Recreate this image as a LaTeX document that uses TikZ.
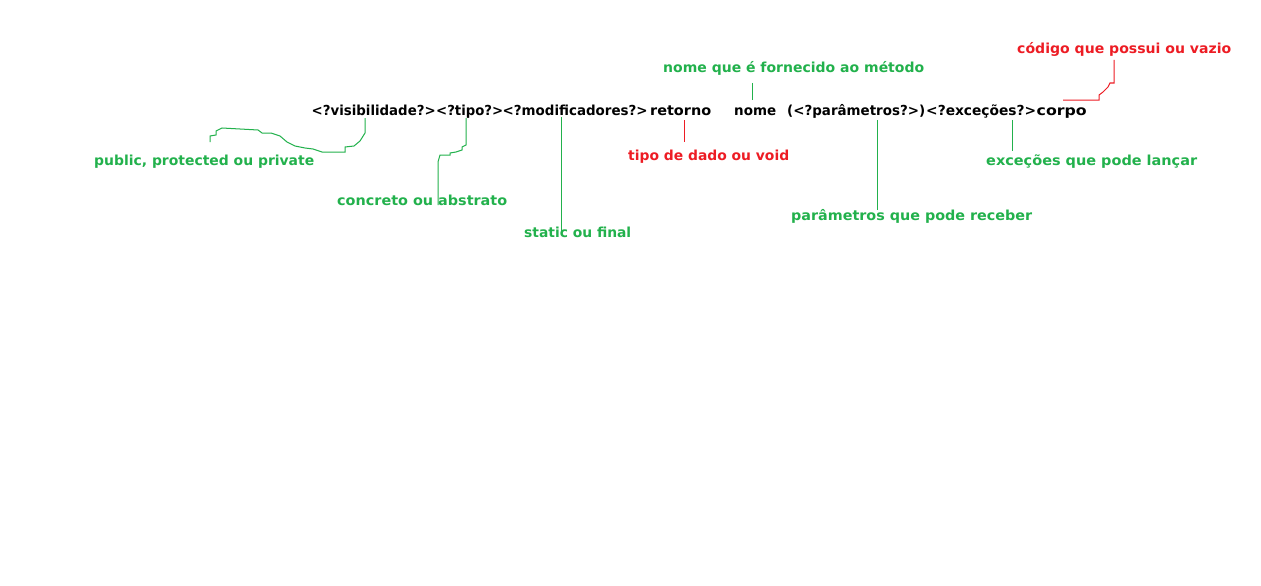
\documentclass[tikz,border=0pt]{standalone}
\usepackage{fontspec}
\usepackage{graphicx}
\setmainfont{DejaVu Sans}
\definecolor{lblgreen}{HTML}{22B14C}
\definecolor{lblred}{HTML}{ED1C24}
% set a text to a given width, keeping its height
\newcommand\fitw[2]{\resizebox{#1pt}{\height}{#2}}
\begin{document}
\begin{tikzpicture}[x=1pt,y=-1pt,
  txt/.style={anchor=base west,inner sep=0pt,font=\fontsize{13.8}{16}\selectfont\bfseries},
  sig/.style={txt,text=black},
  gl/.style={txt,text=lblgreen},
  rl/.style={txt,text=lblred},
  gline/.style={draw=lblgreen,line width=1pt},
  rline/.style={draw=lblred,line width=1pt}]
\fill[white] (0,0) rectangle (1261,586);
\useasboundingbox (0,0) rectangle (1261,586);

% method signature, one node per part
\node[sig] (sVis) at (311.5,115) {\fitw{124}{<?visibilidade?>}};
\node[sig] (sTipo) at (436,115) {\fitw{67}{<?tipo?>}};
\node[sig] (sMod) at (502.5,115) {\fitw{145}{<?modificadores?>}};
\node[sig] (sRet) at (650,115) {\fitw{61}{retorno}};
\node[sig] (sNome) at (734,115) {\fitw{42}{nome}};
\node[sig] (sPar) at (787,115) {\fitw{138}{(<?parâmetros?>)}};
\node[sig] (sExc) at (926,115) {\fitw{110}{<?exceções?>}};
\node[sig] (sCorpo) at (1036.5,115) {\fitw{50}{corpo}};

% explanations
\node[gl] (vis) at (94,165.5) {\fitw{220}{public, protected ou private}};
\node[gl] (tipo) at (337,205) {\fitw{170}{concreto ou abstrato}};
\node[gl] (mod) at (524,237.5) {\fitw{107}{static ou final}};
\node[rl] (ret) at (628,160) {\fitw{161}{tipo de dado ou void}};
\node[gl] (nomelbl) at (663,73) {\fitw{261}{nome que é fornecido ao método}};
\node[gl] (par) at (791,220) {\fitw{241}{parâmetros que pode receber}};
\node[gl] (exc) at (986,165) {\fitw{211}{exceções que pode lançar}};
\node[rl] (corpo) at (1017,54) {\fitw{214}{código que possui ou vazio}};

% connector ends
\coordinate (visTop) at (365,118);
\coordinate (visEnd) at (210,142);
\coordinate (tipoTop) at (466,118);
\coordinate (tipoEnd) at (438,205);
\coordinate (modTop) at (561,117);
\coordinate (modEnd) at (561,232);
\coordinate (retTop) at (684,120);
\coordinate (retEnd) at (684,142);
\coordinate (nomeTop) at (752,83);
\coordinate (nomeEnd) at (752,100);
\coordinate (parTop) at (877,120);
\coordinate (parEnd) at (877,210);
\coordinate (excTop) at (1012,120);
\coordinate (excEnd) at (1012,151);
\coordinate (corpoStart) at (1063,100);
\coordinate (corpoEnd) at (1114,60);

% connectors
\draw[gline] (visTop) -- (365,133) -- (360,141) -- (354,146) -- (345,147) -- (345,152)
  -- (322,152) -- (313,149) -- (305,148) -- (295,146) -- (287,142) -- (280,136)
  -- (271,133) -- (262,133) -- (258,130) -- (222,128) -- (216,131) -- (216,135)
  -- (210,136) -- (visEnd);
\draw[gline] (tipoTop) -- (466,145) -- (462,147) -- (462,150) -- (456,152) -- (450,153)
  -- (450,155) -- (440,155) -- (438,162) -- (tipoEnd);
\draw[gline] (modTop) -- (modEnd);
\draw[rline] (retTop) -- (retEnd);
\draw[gline] (nomeTop) -- (nomeEnd);
\draw[gline] (parTop) -- (parEnd);
\draw[gline] (excTop) -- (excEnd);
\draw[rline] (corpoStart) -- (1099,100) -- (1099,95) -- (1103,92) -- (1108,87)
  -- (1110,83) -- (1114,83) -- (corpoEnd);
\end{tikzpicture}
\end{document}
